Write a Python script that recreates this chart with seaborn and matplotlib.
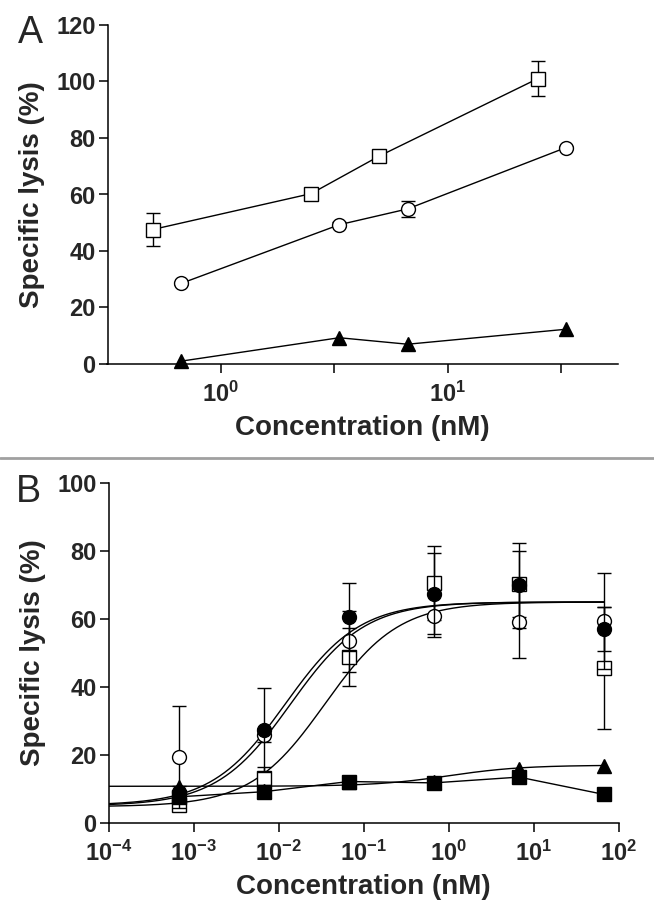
import numpy as np
import matplotlib
matplotlib.use("Agg")
import matplotlib.pyplot as plt
from matplotlib.lines import Line2D
from matplotlib.ticker import FixedLocator, FixedFormatter, NullLocator
import seaborn as sns

# ---- Panel A data ----
conc_sq_a = [0.5, 2.5, 5.0, 25.0]
lysis_sq_a = [47.6, 60.3, 73.6, 101.0]
err_sq_a = [6.0, 1.0, 1.2, 6.3]
conc_ci_a = [0.667, 3.33, 6.67, 33.3]
lysis_ci_a = [28.5, 49.3, 54.9, 76.6]
err_ci_a = [0.5, 0.8, 2.8, 0.6]
lysis_tri_a = [1.0, 9.3, 7.0, 12.3]

# ---- Panel B data ----
conc_b = [6.67e-4, 6.67e-3, 6.67e-2, 0.667, 6.67, 66.7]
lysis_oc_b = [19.5, 25.9, 53.5, 61.0, 59.0, 59.4]
err_oc_b = [15.0, 2.0, 9.0, 6.4, 10.6, 14.0]
lysis_fc_b = [9.0, 27.4, 60.6, 67.5, 70.0, 57.0]
err_fc_b = [2.0, 12.4, 10.0, 12.0, 12.5, 6.5]
lysis_os_b = [5.4, 13.1, 48.8, 70.6, 70.2, 45.6]
err_os_b = [1.5, 3.5, 8.6, 11.0, 9.7, 18.0]
lysis_fs_b = [7.7, 9.2, 12.2, 11.8, 13.5, 8.4]
lysis_tr_b = [10.7, 9.5, 12.0, 12.2, 15.8, 16.8]

# four-parameter logistic fits: bottom, top, logEC50, hill
fit_oc_b = [5.0, 65.0, -1.86, 1.0]
fit_fc_b = [5.2, 65.0, -1.92, 1.0]
fit_os_b = [4.8, 65.0, -1.46, 1.0]
fit_tr_b = [10.8, 17.0, 0.0, 1.0]

exps_a = [0, 0.5, 1, 1.5]
labels_a = ["$10^{0}$", "", "$10^{1}$", ""]
exps_b = [-4, -3, -2, -1, 0, 1, 2]
labels_b = ["$10^{%d}$" % e for e in exps_b]

sns.set_theme(style="ticks")
plt.rcParams["font.family"] = ["Liberation Sans", "DejaVu Sans"]
plt.rcParams["mathtext.fontset"] = "custom"
plt.rcParams["mathtext.rm"] = "Liberation Sans:bold"
plt.rcParams["mathtext.it"] = "Liberation Sans:bold"
plt.rcParams["mathtext.bf"] = "Liberation Sans:bold"
plt.rcParams["mathtext.default"] = "rm"


def logistic(x, p):
    bottom, top, logec, hill = p
    return bottom + (top - bottom) / (1 + 10 ** ((logec - np.log10(x)) * hill))


def style_axes(ax):
    sns.despine(ax=ax)
    for s in ["left", "bottom"]:
        ax.spines[s].set_linewidth(1.1)
        ax.spines[s].set_color("black")
    ax.tick_params(axis="both", length=6.5, width=1.1, color="black",
                   labelsize=17, direction="out")
    ax.tick_params(axis="y", pad=2)
    ax.tick_params(axis="x", pad=6)
    for lab in ax.get_yticklabels():
        lab.set_fontweight("bold")
    ax.set_ylabel("Specific lysis (%)", fontsize=20, fontweight="bold", labelpad=8)
    ax.set_xlabel("Concentration (nM)", fontsize=20, fontweight="bold", labelpad=6)


fig = plt.figure(figsize=(6.54, 9.22), dpi=100)
ax_a = fig.add_axes([107.5 / 654, 1 - 364 / 922, 510 / 654, 339 / 922])
ax_b = fig.add_axes([108.5 / 654, 1 - 823 / 922, 510.5 / 654, 340 / 922])

lw = 1.0
ms = 10
mew = 1.0
cap = 5.3

# ---- Panel A ----
ax = ax_a
ax.set_xscale("log")
sns.lineplot(x=conc_sq_a, y=lysis_sq_a, ax=ax, color="black", lw=lw, zorder=2)
sns.lineplot(x=conc_ci_a, y=lysis_ci_a, ax=ax, color="black", lw=lw, zorder=2)
sns.lineplot(x=conc_ci_a, y=lysis_tri_a, ax=ax, color="black", lw=lw, zorder=2)
ax.errorbar(conc_sq_a, lysis_sq_a, yerr=err_sq_a, fmt="s", ms=ms, mfc="white",
            mec="black", mew=mew, ecolor="black", elinewidth=lw, capsize=cap,
            capthick=lw, zorder=3)
ax.errorbar(conc_ci_a, lysis_ci_a, yerr=err_ci_a, fmt="o", ms=ms, mfc="white",
            mec="black", mew=mew, ecolor="black", elinewidth=lw, capsize=cap,
            capthick=lw, zorder=3)
ax.plot(conc_ci_a, lysis_tri_a, "^", ms=ms, color="black", zorder=4, clip_on=False)
ax.set_xlim(10 ** -0.5, 10 ** 1.75)
ax.set_ylim(0, 120)
ax.set_yticks([0, 20, 40, 60, 80, 100, 120])
ax.xaxis.set_major_locator(FixedLocator([10 ** e for e in exps_a]))
ax.xaxis.set_major_formatter(FixedFormatter(labels_a))
ax.xaxis.set_minor_locator(NullLocator())
style_axes(ax)

# ---- Panel B ----
ax = ax_b
ax.set_xscale("log")
xs = np.logspace(-4, np.log10(conc_b[-1]), 300)
for p in [fit_oc_b, fit_fc_b, fit_os_b, fit_tr_b]:
    sns.lineplot(x=xs, y=logistic(xs, p), ax=ax, color="black", lw=lw, zorder=2)
sns.lineplot(x=conc_b, y=lysis_fs_b, ax=ax, color="black", lw=lw, zorder=2)

ax.errorbar(conc_b, lysis_os_b, yerr=err_os_b, fmt="s", ms=ms - 0.5, mfc="white",
            mec="black", mew=mew, ecolor="black", elinewidth=lw, capsize=cap,
            capthick=lw, zorder=3)
ax.errorbar(conc_b, lysis_oc_b, yerr=err_oc_b, fmt="o", ms=ms, mfc="white",
            mec="black", mew=mew, ecolor="black", elinewidth=lw, capsize=cap,
            capthick=lw, zorder=4)
ax.errorbar(conc_b, lysis_fc_b, yerr=err_fc_b, fmt="o", ms=ms, mfc="black",
            mec="black", mew=mew, ecolor="black", elinewidth=lw, capsize=cap,
            capthick=lw, zorder=5)
ax.plot(conc_b, lysis_fs_b, "s", ms=ms - 0.5, color="black", zorder=6)
ax.plot(conc_b, lysis_tr_b, "^", ms=ms, color="black", zorder=7)
ax.set_xlim(1e-4, 1e2)
ax.set_ylim(0, 100)
ax.set_yticks([0, 20, 40, 60, 80, 100])
ax.xaxis.set_major_locator(FixedLocator([10.0 ** e for e in exps_b]))
ax.xaxis.set_major_formatter(FixedFormatter(labels_b))
ax.xaxis.set_minor_locator(NullLocator())
style_axes(ax)

# separator and panel letters
fig.add_artist(Line2D([0, 1], [1 - 457.5 / 922] * 2, transform=fig.transFigure,
                      color="#a0a0a0", lw=2))
fig.text(30 / 654, 1 - 33 / 922, "A", fontsize=27, ha="center", va="center")
fig.text(28 / 654, 1 - 492 / 922, "B", fontsize=27, ha="center", va="center")

fig.savefig("out.png", dpi=100)
